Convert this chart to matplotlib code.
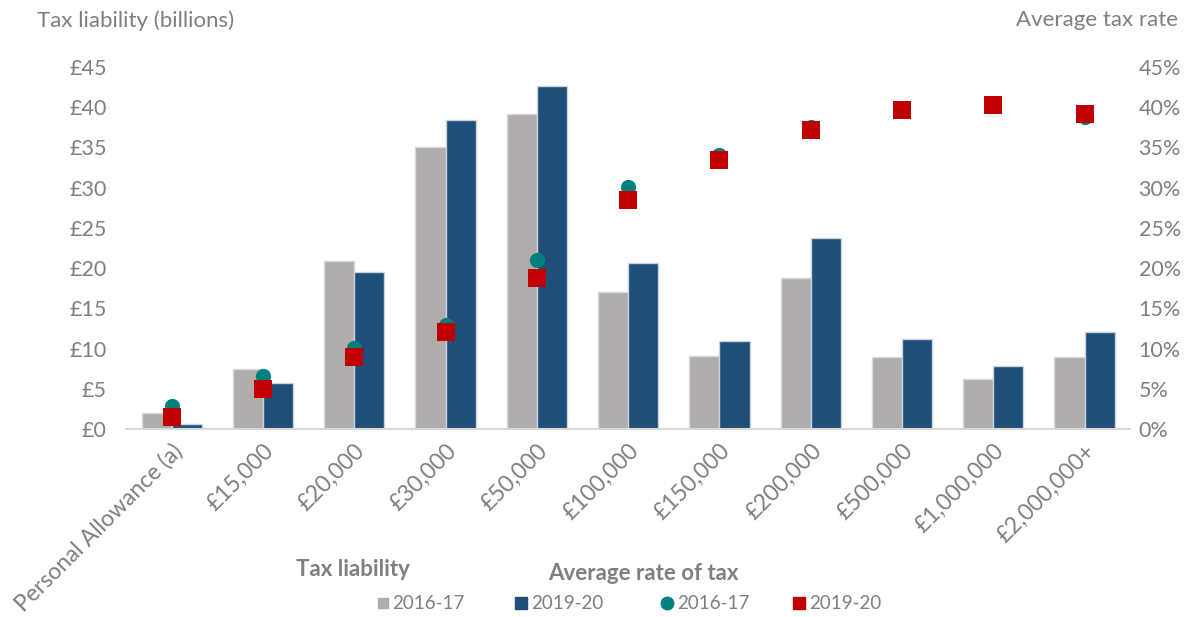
import matplotlib.pyplot as plt
import numpy as np
from matplotlib.lines import Line2D
from matplotlib.ticker import FuncFormatter

plt.rcParams['font.family'] = ['Lato', 'DejaVu Sans']

bands = ['Personal Allowance (a)', '£15,000', '£20,000', '£30,000', '£50,000',
         '£100,000', '£150,000', '£200,000', '£500,000', '£1,000,000', '£2,000,000+']

# tax liability, £ billions
liab_1617 = [2.0, 7.5, 20.9, 35.0, 39.2, 17.0, 9.1, 18.8, 9.0, 6.2, 9.0]
liab_1920 = [0.6, 5.7, 19.5, 38.4, 42.7, 20.6, 10.9, 23.8, 11.2, 7.8, 12.1]

# average tax rate, %
rate_1617 = [2.8, 6.6, 10.1, 12.9, 21.0, 30.1, 34.1, 37.6, 39.8, 40.3, 38.8]
rate_1920 = [1.5, 5.0, 9.0, 12.1, 18.8, 28.5, 33.4, 37.2, 39.7, 40.3, 39.1]

GREY = '#AFACAB'
BLUE = '#1F4E79'
TEAL = '#00807F'
RED = '#C00000'
TXT = '#7F7F7F'

fig = plt.figure(figsize=(12.04, 6.17), dpi=100)
ax = fig.add_axes([0.1047, 0.3047, 0.834, 0.5867])
x = np.arange(len(bands))
w = 0.33

ax.bar(x - w / 2, liab_1617, w, color=GREY, edgecolor='#D9D9D9', linewidth=1)
ax.bar(x + w / 2, liab_1920, w, color=BLUE, edgecolor='#C8D3E0', linewidth=1)

ax.set_xlim(-0.5, len(bands) - 0.5)
ax.set_ylim(0, 45)
ax.set_yticks(range(0, 50, 5))
ax.yaxis.set_major_formatter(FuncFormatter(lambda v, p: f'£{v:.0f}'))
ax.set_xticks(x)
ax.set_xticklabels(bands, rotation=45, ha='right', rotation_mode='anchor')

for s in ['top', 'left', 'right']:
    ax.spines[s].set_visible(False)
ax.spines['bottom'].set_color('#D9D9D9')
ax.spines['bottom'].set_linewidth(1.5)
ax.tick_params(axis='both', length=0, colors=TXT, labelsize=15.5)
ax.tick_params(axis='x', pad=8, labelsize=16.5)
ax.tick_params(axis='y', pad=14)

ax2 = ax.twinx()
ax2.set_ylim(0, 45)
ax2.set_yticks(range(0, 50, 5))
ax2.yaxis.set_major_formatter(FuncFormatter(lambda v, p: f'{v:.0f}%'))
for s in ax2.spines.values():
    s.set_visible(False)
ax2.tick_params(axis='y', length=0, colors=TXT, labelsize=15.5, pad=6)

ax2.scatter(x, rate_1617, s=120, marker='o', color=TEAL, zorder=3, linewidths=0)
ax2.scatter(x, rate_1920, s=160, marker='s', color=RED, zorder=4, linewidths=0)

fig.text(0.031, 0.967, 'Tax liability (billions)', color=TXT, fontsize=16, va='center')
fig.text(0.978, 0.967, 'Average tax rate', color=TXT, fontsize=16, va='center', ha='right')

fig.text(0.246, 0.077, 'Tax liability', color=TXT, fontsize=16, fontweight='bold', va='center')
fig.text(0.455, 0.071, 'Average rate of tax', color=TXT, fontsize=16, fontweight='bold', va='center')

# legend keys, laid out by hand in figure coordinates
keys = [(0.318, 's', 7.5, GREY, '2016-17'),
        (0.433, 's', 9, BLUE, '2019-20'),
        (0.554, 'o', 9, TEAL, '2016-17'),
        (0.664, 's', 9, RED, '2019-20')]
ky = 0.022
for kx, m, ms, c, lab in keys:
    fig.add_artist(Line2D([kx], [ky], ls='', marker=m, ms=ms, color=c,
                          transform=fig.transFigure))
    fig.text(kx + 0.008, ky, lab, color=TXT, fontsize=13.5, va='center')

fig.savefig('out.png', dpi=100)
